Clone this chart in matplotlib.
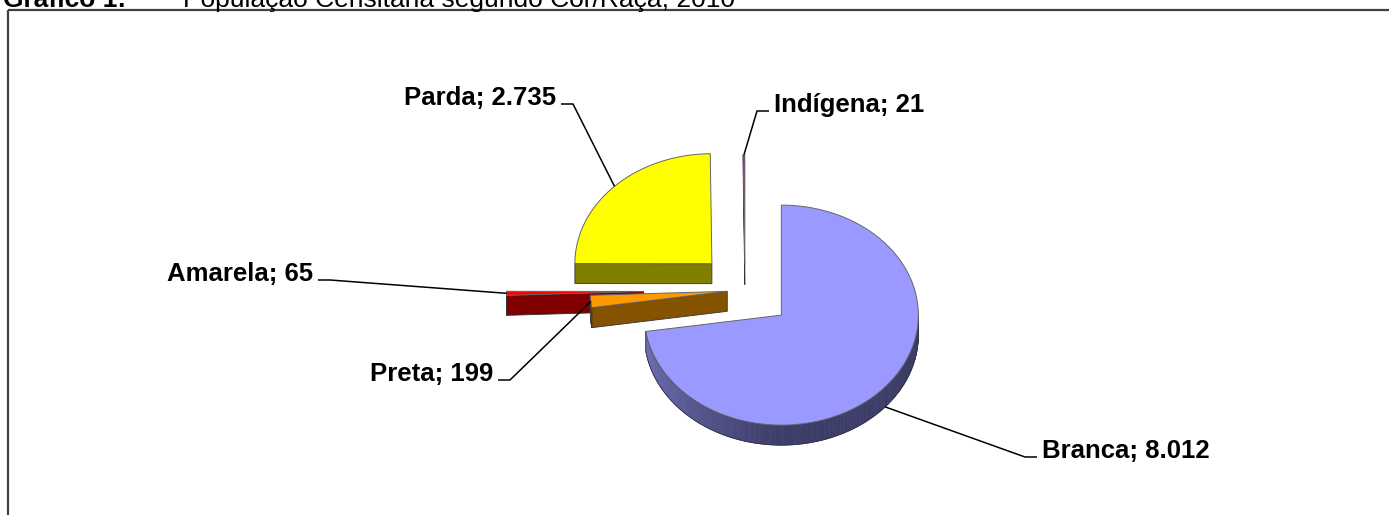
import numpy as np
import matplotlib
matplotlib.use('Agg')
import matplotlib.pyplot as plt
from matplotlib.patches import Polygon
from matplotlib.colors import to_rgb

plt.rcParams['font.family'] = ['Liberation Sans', 'DejaVu Sans']

# population by colour/race, 2010
labels = ['Branca', 'Preta', 'Amarela', 'Parda', 'Indígena']
values = [8012, 199, 65, 2735, 21]
value_text = ['8.012', '199', '65', '2.735', '21']
explode = [0.35, 0.13, 0.74, 0.34, 0.23]
top_colors = ['#9999ff', '#ff9900', '#ff0000', '#ffff00', '#800080']
side_colors = ['#3c3c69', '#855300', '#800000', '#808000', '#4d004d']

W, H = 1389, 515
fig = plt.figure(figsize=(W / 100, H / 100), dpi=100)
ax = fig.add_axes([0, 0, 1, 1])
ax.set_xlim(0, W)
ax.set_ylim(H, 0)
ax.axis('off')

# pie geometry (screen units, y grows downwards)
cx, cy = 745, 290
rx, ry = 137, 110
depth = 20


def arc(x0, y0, a, b, n):
    t = np.linspace(a, b, n)
    return np.column_stack([x0 + rx * np.sin(t), y0 - ry * np.cos(t)])


total = float(sum(values))
bounds = np.concatenate([[0], np.cumsum(values)]) / total * 2 * np.pi

slices = []
for i in range(len(values)):
    a, b = bounds[i], bounds[i + 1]
    mid = (a + b) / 2
    ox = cx + explode[i] * rx * np.sin(mid)
    oy = cy - explode[i] * ry * np.cos(mid)
    slices.append((i, a, b, mid, ox, oy))

# back to front
order = sorted(slices, key=lambda s: s[5] - ry * np.cos(s[3]))

for i, a, b, mid, ox, oy in order:
    side = to_rgb(side_colors[i])
    # radial face on the start edge
    if np.sin(a) < -1e-6:
        p = arc(ox, oy, a, a, 1)[0]
        quad = [(ox, oy), tuple(p), (p[0], p[1] + depth), (ox, oy + depth)]
        ax.add_patch(Polygon(quad, closed=True, facecolor=side,
                             edgecolor='#333333', lw=0.6, zorder=2))
    # outer wall, only the front half is visible
    wa, wb = max(a, np.pi / 2), min(b, 3 * np.pi / 2)
    if wb > wa:
        n = max(int((wb - wa) * 80), 4)
        ts = np.linspace(wa, wb, n + 1)
        for k in range(n):
            seg = arc(ox, oy, ts[k], ts[k + 1], 3)
            poly = np.vstack([seg, seg[::-1] + [0, depth]])
            # lighter towards the left end of the wall
            f = np.clip((ts[k] - np.radians(180)) / np.radians(90), 0, 1)
            col = np.array(side) + f * (np.array([0.46, 0.46, 0.75]) - np.array(side)) \
                if i == 0 else side
            ax.add_patch(Polygon(poly, closed=True, facecolor=col,
                                 edgecolor=col, lw=0.5, zorder=2))
        seg = arc(ox, oy, wa, wb, 200)
        outline = np.vstack([seg, seg[::-1] + [0, depth]])
        ax.add_patch(Polygon(outline, closed=True, fill=False,
                             edgecolor='#333344', lw=0.6, zorder=2))
    # top face
    pts = np.vstack([[ox, oy], arc(ox, oy, a, b, max(int((b - a) * 120), 3))])
    ax.add_patch(Polygon(pts, closed=True, facecolor=top_colors[i],
                         edgecolor='#666666', lw=0.7, zorder=3))

# data labels with leader lines
label_pos = {
    'Branca': (1025, 457, 'left'),
    'Preta': (510, 380, 'right'),
    'Amarela': (330, 280, 'right'),
    'Parda': (573, 104, 'right'),
    'Indígena': (757, 111, 'left'),
}
for i, a, b, mid, ox, oy in slices:
    anchor_x = ox + rx * np.sin(mid)
    anchor_y = oy - ry * np.cos(mid)
    if np.cos(mid) < -0.3:
        anchor_y += depth
    ex, ey, ha = label_pos[labels[i]]
    hx = ex + 12 if ha == 'left' else ex - 12
    ax.plot([anchor_x, ex, hx], [anchor_y, ey, ey], color='black', lw=1.1,
            zorder=4, solid_capstyle='butt')
    tx = hx + 5 if ha == 'left' else hx - 5
    ax.text(tx, ey + 1, f'{labels[i]}; {value_text[i]}', ha=ha, va='baseline',
            fontsize=18.5, fontweight='bold', color='black', zorder=5)

# frame and heading
ax.plot([8, W], [10, 10], color='#404040', lw=1.6, solid_capstyle='butt')
ax.plot([8, 8], [10, H], color='#404040', lw=1.6, solid_capstyle='butt')
ax.text(3, 7, 'Gráfico 1:', ha='left', va='baseline', fontsize=19,
        fontweight='bold')
ax.text(183, 7, 'População Censitária segundo Cor/Raça, 2010', ha='left',
        va='baseline', fontsize=19)

fig.savefig('out.png', dpi=100)
